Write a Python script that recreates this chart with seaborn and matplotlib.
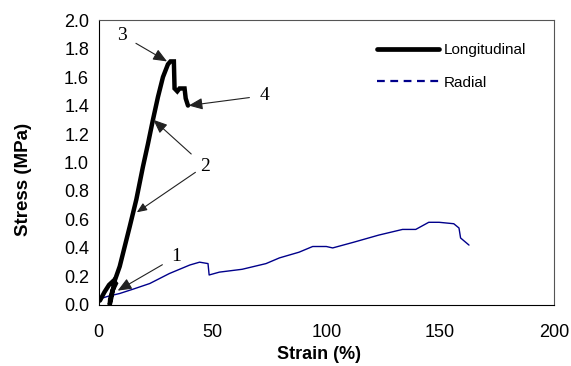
import matplotlib
matplotlib.use("Agg")
import matplotlib.pyplot as plt
import seaborn as sns
import pandas as pd
from matplotlib.lines import Line2D

# Longitudinal curve (strain %, stress MPa)
long_strain = [0.5, 2.5, 4.5, 6.5, 7.5, 6.0, 5.0, 4.8, 5.5, 7.0, 9.2, 11.4, 13.6, 16.5, 19.4, 21.6,
               23.8, 26.0, 28.2, 30.4, 31.5, 33.0, 33.3, 34.5, 35.5, 37.7, 38.2, 39.2]
long_stress = [0.03, 0.09, 0.14, 0.17, 0.15, 0.10, 0.04, 0.00, 0.05, 0.17, 0.27, 0.41, 0.55, 0.74, 0.97, 1.13,
               1.30, 1.46, 1.60, 1.69, 1.71, 1.71, 1.52, 1.50, 1.52, 1.52, 1.45, 1.40]

# Radial curve
rad_strain = [0.0, 4.0, 9.2, 15.0, 22.4, 31.0, 40.0, 44.3, 48.0, 48.5, 53.0, 63.0, 73.5, 79.4, 88.0,
              94.0, 100.0, 102.8, 112.0, 123.0, 133.5, 139.3, 145.0, 149.6, 156.0, 158.3, 159.0, 162.7]
rad_stress = [0.04, 0.06, 0.08, 0.11, 0.15, 0.22, 0.28, 0.30, 0.29, 0.21, 0.23, 0.25, 0.29, 0.33, 0.37,
              0.41, 0.41, 0.40, 0.44, 0.49, 0.53, 0.53, 0.58, 0.58, 0.57, 0.54, 0.47, 0.42]

x_ticks = [0, 50, 100, 150, 200]
y_ticks = [0.0, 0.2, 0.4, 0.6, 0.8, 1.0, 1.2, 1.4, 1.6, 1.8, 2.0]

sns.set_style("white")
plt.rcParams['font.family'] = ['Liberation Sans', 'DejaVu Sans']
plt.rcParams['text.color'] = 'black'
plt.rcParams['axes.labelcolor'] = 'black'

fig = plt.figure(figsize=(5.71, 3.66), dpi=100)
ax = fig.add_axes([0.173, 0.167, 0.797, 0.778])

df_l = pd.DataFrame({"strain": long_strain, "stress": long_stress})
df_r = pd.DataFrame({"strain": rad_strain, "stress": rad_stress})

sns.lineplot(data=df_r, x="strain", y="stress", sort=False, color="#00008B", lw=1.0, ax=ax)
sns.lineplot(data=df_l, x="strain", y="stress", sort=False, color="black", lw=3.2, ax=ax,
             solid_joinstyle="miter")

ax.set_xlim(0, 200)
ax.set_ylim(0, 2.0)
ax.set_xticks(x_ticks)
ax.set_yticks(y_ticks)
ax.set_yticklabels([f"{v:.1f}" for v in y_ticks])
ax.tick_params(axis="both", direction="out", length=4, width=0.8, labelsize=13, colors="black")
ax.tick_params(axis="x", pad=10)
ax.tick_params(axis="y", pad=3)
ax.set_xlabel("Strain (%)", fontsize=13, fontweight="bold")
ax.set_ylabel("Stress (MPa)", fontsize=13.5, fontweight="bold")
ax.xaxis.set_label_coords(0.484, -0.145)
ax.yaxis.set_label_coords(-0.147, 0.44)
for s in ax.spines.values():
    s.set_color("#555555")
    s.set_linewidth(0.8)
ax.spines["left"].set_color("black")
ax.spines["bottom"].set_color("black")

handles = [Line2D([], [], color="black", lw=3.4),
           Line2D([], [], color="#00008B", lw=1.6, ls=(0, (3.5, 2.5)))]
ax.legend(handles, ["Longitudinal", "Radial"], loc="upper left", bbox_to_anchor=(0.611, 0.919),
          frameon=False, fontsize=11, handlelength=4.1, handletextpad=0.3, labelspacing=1.2,
          borderpad=0, borderaxespad=0)

ap = dict(arrowstyle="-|>,head_length=0.6,head_width=0.25", color="#222222", lw=0.8,
          shrinkA=5, shrinkB=0)
serif = ["Liberation Serif", "DejaVu Serif"]
ax.annotate("3", xy=(30.0, 1.71), xytext=(10.1, 1.895), fontsize=14, family=serif,
            ha="center", va="center", arrowprops=ap)
ax.annotate("4", xy=(39.5, 1.40), xytext=(72.8, 1.47), fontsize=14, family=serif,
            ha="center", va="center", arrowprops=ap)
ax.annotate("2", xy=(24.0, 1.30), xytext=(46.5, 0.975), fontsize=14, family=serif,
            ha="center", va="center", arrowprops=ap)
ax.annotate("", xy=(16.7, 0.65), xytext=(46.5, 0.975), arrowprops=dict(ap, shrinkA=8))
ax.annotate("1", xy=(8.3, 0.10), xytext=(34.2, 0.34), fontsize=14, family=serif,
            ha="center", va="center", arrowprops=ap)

fig.savefig("out.png", dpi=100)
